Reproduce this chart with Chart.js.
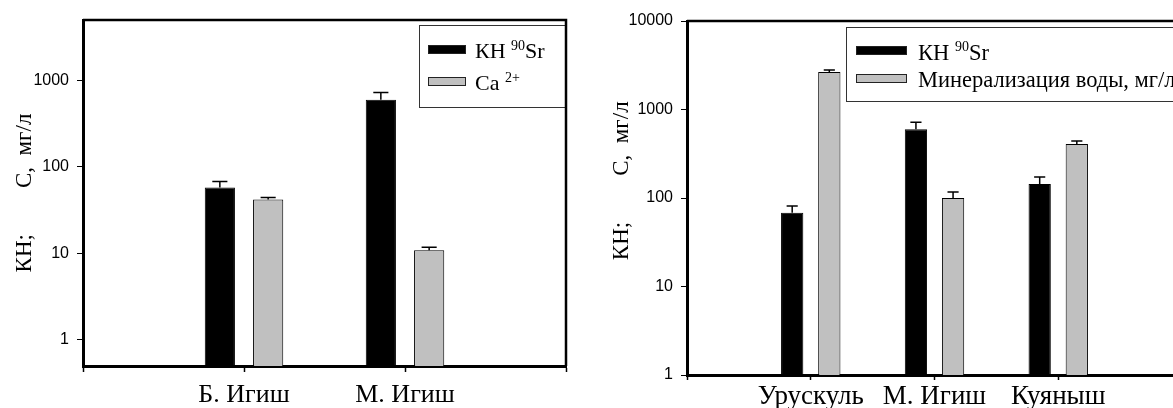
<!DOCTYPE html>
<html>
<head>
<meta charset="utf-8">
<script src="https://cdn.jsdelivr.net/npm/chart.js@4/dist/chart.umd.min.js"></script>
<style>
  html, body { margin: 0; padding: 0; background: #fff; }
  body { width: 1173px; height: 408px; overflow: hidden; position: relative; }
  #left { position: absolute; left: 0; top: 0; }
  #right { position: absolute; left: 600px; top: 0; }
</style>
</head>
<body>
<canvas id="left" width="590" height="408"></canvas>
<canvas id="right" width="610" height="408"></canvas>
<script>
// left panel
const leftCategories = ["", "Б. Игиш", "М. Игиш", ""];
const leftKn = [null, 58, 600, null];
const leftKnErr = [null, 10, 125, null];
const leftCa = [null, 42, 10.9, null];
const leftCaErr = [null, 2.5, 0.9, null];
const leftTicks = [1, 10, 100, 1000];

// right panel
const rightCategories = ["", "Урускуль", "М. Игиш", "Куяныш", ""];
const rightKn = [null, 68, 600, 144, null];
const rightKnErr = [null, 13, 120, 29, null];
const rightMineral = [null, 2650, 100, 407, null];
const rightMineralErr = [null, 145, 17, 34, null];
const rightTicks = [1, 10, 100, 1000, 10000];

const knLegend = ["КН ", "90", "Sr"];
const caLegend = ["Ca ", "2+", ""];
const mineralLegend = ["Минерализация воды, мг/л", "", ""];
const yTitle = "КН;        С,  мг/л";

const SERIF = '"Liberation Serif", "Times New Roman", serif';
Chart.defaults.font.family = '"Liberation Sans", Arial, sans-serif';
Chart.defaults.color = "#000";

const errorBars = {
  id: "errorBars",
  afterDatasetsDraw(chart) {
    const ctx = chart.ctx;
    const y = chart.scales.y;
    chart.data.datasets.forEach((ds, i) => {
      if (!ds.errors) return;
      const meta = chart.getDatasetMeta(i);
      meta.data.forEach((bar, j) => {
        const v = ds.data[j], e = ds.errors[j];
        if (v == null || e == null) return;
        const top = y.getPixelForValue(v + e);
        const half = bar.width / 4;
        ctx.save();
        ctx.strokeStyle = "#000";
        ctx.lineWidth = 1.5;
        ctx.beginPath();
        ctx.moveTo(bar.x, bar.y);
        ctx.lineTo(bar.x, top);
        ctx.moveTo(bar.x - half, top);
        ctx.lineTo(bar.x + half, top);
        ctx.stroke();
        ctx.restore();
      });
    });
  },
};

const boxLegend = {
  id: "boxLegend",
  afterDatasetsDraw(chart, args, o) {
    const ctx = chart.ctx;
    const a = chart.chartArea;
    const x0 = a.left + o.dx, y0 = a.top + o.dy;
    ctx.save();
    ctx.fillStyle = "#fff";
    ctx.fillRect(x0, y0, a.right - x0, o.h);
    ctx.strokeStyle = "#333";
    ctx.lineWidth = 1;
    ctx.strokeRect(x0 + 0.5, y0 + 0.5, a.right - x0, o.h);
    chart.data.datasets.forEach((ds, i) => {
      const sy = y0 + o.rowY[i];
      ctx.fillStyle = ds.backgroundColor;
      ctx.fillRect(x0 + o.swatchX, sy, o.swatchW, o.swatchH);
      ctx.strokeStyle = "#222";
      ctx.strokeRect(x0 + o.swatchX + 0.5, sy + 0.5, o.swatchW - 1, o.swatchH - 1);
      const parts = ds.legendText;
      let tx = x0 + o.textX;
      const base = y0 + o.baseY[i];
      ctx.fillStyle = "#000";
      ctx.textBaseline = "alphabetic";
      ctx.textAlign = "left";
      ctx.font = o.size + "px " + SERIF;
      ctx.fillText(parts[0], tx, base);
      tx += ctx.measureText(parts[0]).width;
      ctx.font = o.supSize + "px " + SERIF;
      ctx.fillText(parts[1], tx, base - o.supRise);
      tx += ctx.measureText(parts[1]).width;
      ctx.font = o.size + "px " + SERIF;
      ctx.fillText(parts[2], tx, base);
    });
    ctx.restore();
  },
};

const frame = {
  id: "frame",
  afterDraw(chart) {
    const ctx = chart.ctx;
    const a = chart.chartArea;
    ctx.save();
    ctx.strokeStyle = "#000";
    ctx.lineWidth = 2.5;
    ctx.beginPath();
    ctx.moveTo(a.left, a.top);
    ctx.lineTo(a.right, a.top);
    ctx.lineTo(a.right, a.bottom);
    ctx.stroke();
    ctx.restore();
  },
};

function makeChart(canvas, cfg) {
  return new Chart(canvas, {
    type: "bar",
    data: {
      labels: cfg.labels,
      datasets: [
        {
          label: cfg.legends[0].join(""),
          legendText: cfg.legends[0],
          data: cfg.a,
          errors: cfg.aErr,
          backgroundColor: "#000000",
          borderColor: "#000000",
          borderWidth: 1,
          categoryPercentage: 0.6,
          barPercentage: cfg.barPct,
        },
        {
          label: cfg.legends[1].join(""),
          legendText: cfg.legends[1],
          data: cfg.b,
          errors: cfg.bErr,
          backgroundColor: "#c0c0c0",
          borderColor: "#000000",
          borderWidth: 1,
          categoryPercentage: 0.6,
          barPercentage: cfg.barPct,
        },
      ],
    },
    options: {
      responsive: false,
      animation: false,
      layout: { padding: { left: 0, top: cfg.top, right: cfg.right, bottom: 0 } },
      plugins: {
        legend: { display: false },
        tooltip: { enabled: false },
        boxLegend: cfg.legendBox,
      },
      scales: {
        x: {
          type: "category",
          offset: false,
          grid: { offset: false, drawOnChartArea: false, drawTicks: true, tickLength: cfg.xTick, tickColor: "#000", tickWidth: 1.5 },
          border: { display: true, color: "#000", width: 3 },
          ticks: { autoSkip: false, maxRotation: 0, minRotation: 0, padding: cfg.xPad, font: { family: SERIF, size: cfg.xFont }, color: "#000" },
          afterFit(scale) { scale.height = cfg.xHeight; },
        },
        y: {
          type: "logarithmic",
          min: cfg.min,
          max: cfg.max,
          afterBuildTicks(scale) { scale.ticks = cfg.ticks.map((v) => ({ value: v })); },
          afterFit(scale) { scale.width = cfg.yWidth; },
          grid: { drawOnChartArea: false, drawTicks: true, tickLength: 6, tickColor: "#000", tickWidth: 1 },
          border: { display: true, color: "#000", width: 3 },
          ticks: { padding: 8, font: { size: 16 }, color: "#000", callback: (v) => String(v) },
          title: { display: true, text: cfg.title, font: { family: SERIF, size: 23 }, color: "#000", padding: { top: cfg.titlePad, bottom: 0 } },
        },
      },
    },
    plugins: [errorBars, boxLegend, frame],
  });
}

makeChart(document.getElementById("left"), {
  labels: leftCategories,
  a: leftKn, aErr: leftKnErr,
  b: leftCa, bErr: leftCaErr,
  legends: [knLegend, caLegend],
  barPct: 0.625,
  min: 0.5, max: 5000, ticks: leftTicks,
  top: 20, right: 24,
  yWidth: 83, xHeight: 42, xTick: 6, xPad: 8, xFont: 26,
  title: yTitle, titlePad: 11,
  legendBox: { dx: 336, dy: 5, h: 82, swatchX: 9, swatchW: 38, swatchH: 9, rowY: [20, 52], textX: 56, baseY: [33, 65], size: 22, supSize: 14, supRise: 8 },
});

makeChart(document.getElementById("right"), {
  labels: rightCategories,
  a: rightKn, aErr: rightKnErr,
  b: rightMineral, bErr: rightMineralErr,
  legends: [knLegend, mineralLegend],
  barPct: 0.6,
  min: 1, max: 10000, ticks: rightTicks,
  top: 21, right: 28,
  yWidth: 87, xHeight: 33, xTick: 5, xPad: 1, xFont: 27,
  title: "      " + yTitle, titlePad: 8,
  legendBox: { dx: 159, dy: 6, h: 74, swatchX: 10, swatchW: 51, swatchH: 9, rowY: [19, 47], textX: 72, baseY: [33, 60], size: 22.5, supSize: 14, supRise: 9 },
});
</script>
</body>
</html>
